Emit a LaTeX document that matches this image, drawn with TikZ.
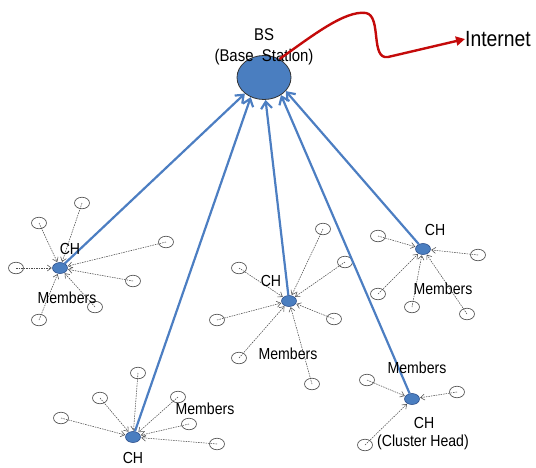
\documentclass[tikz,border=0pt]{standalone}
\usepackage{fontspec}
\setmainfont[FakeStretch=0.88]{Liberation Sans}
\usetikzlibrary{arrows.meta,shapes.geometric}
\definecolor{nodeblue}{RGB}{74,126,192}
\definecolor{chborder}{RGB}{45,80,140}
\definecolor{lineblue}{RGB}{76,126,194}
\definecolor{wavered}{RGB}{196,10,10}
\begin{document}
\begin{tikzpicture}[x=1pt,y=-1pt,
  member/.style={ellipse,draw=black!65,line width=0.7pt,minimum width=15pt,minimum height=11.5pt,inner sep=0pt},
  chnode/.style={ellipse,draw=chborder,fill=nodeblue,line width=0.6pt,minimum width=15pt,minimum height=11pt,inner sep=0pt},
  bsnode/.style={ellipse,draw=black!80,fill=nodeblue,line width=0.8pt,minimum width=54pt,minimum height=44pt,inner sep=0pt},
  link/.style={draw=black!70,line width=0.55pt,dash pattern=on 1.5pt off 1pt,-{Straight Barb[length=4pt,width=6pt]},shorten >=0.5pt},
  uplink/.style={draw=lineblue,line width=2.2pt,-{Straight Barb[length=7pt,width=11pt]}},
  redline/.style={draw=wavered,line width=2.4pt,-{Triangle[length=9pt,width=9pt]}},
  lbl/.style={font=\fontsize{16}{18}\selectfont,inner sep=0pt},
  bslbl/.style={font=\fontsize{17}{19}\selectfont,inner sep=0pt},
  netlbl/.style={font=\fontsize{22}{24}\selectfont,inner sep=0pt}]
\useasboundingbox (0,0) rectangle (536,467);

% Base station
\node[bsnode] (bs) at (264,77.5) {};
\node[bslbl] (bstxt) at (264,35) {BS};
\node[bslbl] (bsname) at (264,57.5) {(Base\ \ Station)};
\node[netlbl,anchor=west] (inet) at (465,39) {Internet};
\draw[redline] (bs.50) .. controls (312,36) and (345,10) .. (366,13)
  .. controls (382,16) and (370,60) .. (388,57) -- (inet.west);

% Cluster 1
\node[chnode] (ch1) at (60,268) {};
\node[member] (m11) at (82,203) {};
\node[member] (m12) at (39,223) {};
\node[member] (m13) at (16,268) {};
\node[member] (m14) at (166,242) {};
\node[member] (m15) at (133,281) {};
\node[member] (m16) at (95,307) {};
\node[member] (m17) at (39,320) {};
\foreach \i in {1,...,7} \draw[link] (m1\i.center) -- (ch1);

% Cluster 2
\node[chnode] (ch2) at (289,301) {};
\node[member] (m21) at (323,229) {};
\node[member] (m22) at (345,262) {};
\node[member] (m23) at (239,268) {};
\node[member] (m24) at (334,319) {};
\node[member] (m25) at (217,320) {};
\node[member] (m26) at (239,358) {};
\node[member] (m27) at (312,384) {};
\foreach \i in {1,...,7} \draw[link] (m2\i.center) -- (ch2);

% Cluster 3
\node[chnode] (ch3) at (423,249) {};
\node[member] (m31) at (378,236) {};
\node[member] (m32) at (478,255) {};
\node[member] (m33) at (378,294) {};
\node[member] (m34) at (412,307) {};
\node[member] (m35) at (467,314) {};
\foreach \i in {1,...,5} \draw[link] (m3\i.center) -- (ch3);

% Cluster 4
\node[chnode] (ch4) at (412,399) {};
\node[member] (m41) at (367,380) {};
\node[member] (m42) at (457,392) {};
\node[member] (m43) at (365,445) {};
\foreach \i in {1,...,3} \draw[link] (m4\i.center) -- (ch4);

% Cluster 5
\node[chnode] (ch5) at (133,437) {};
\node[member] (m51) at (138,373) {};
\node[member] (m52) at (100,398) {};
\node[member] (m53) at (61,418) {};
\node[member] (m54) at (178,397) {};
\node[member] (m55) at (189,424) {};
\node[member] (m56) at (217,444) {};
\foreach \i in {1,...,6} \draw[link] (m5\i.center) -- (ch5);

% Uplinks to BS
\draw[uplink] (ch1) -- (bs.220);
\draw[uplink] (ch5) -- (bs.236);
\draw[uplink] (ch2) -- (bs.274);
\draw[uplink] (ch4) -- (bs.314);
\draw[uplink] (ch3) -- (bs.328);

% Labels
\node[lbl] (l1a) at (70,249) {CH};
\node[lbl] (l1b) at (67,298) {Members};
\node[lbl] (l2a) at (271,281) {CH};
\node[lbl] (l2b) at (288,354) {Members};
\node[lbl] (l3a) at (435,230) {CH};
\node[lbl] (l3b) at (443,289) {Members};
\node[lbl] (l4b) at (417,368) {Members};
\node[lbl] (l4a) at (424,423) {CH};
\node[lbl] (l4c) at (423,442) {(Cluster Head)};
\node[lbl] (l5b) at (205,409) {Members};
\node[lbl] (l5a) at (133,457.5) {CH};
\end{tikzpicture}
\end{document}
